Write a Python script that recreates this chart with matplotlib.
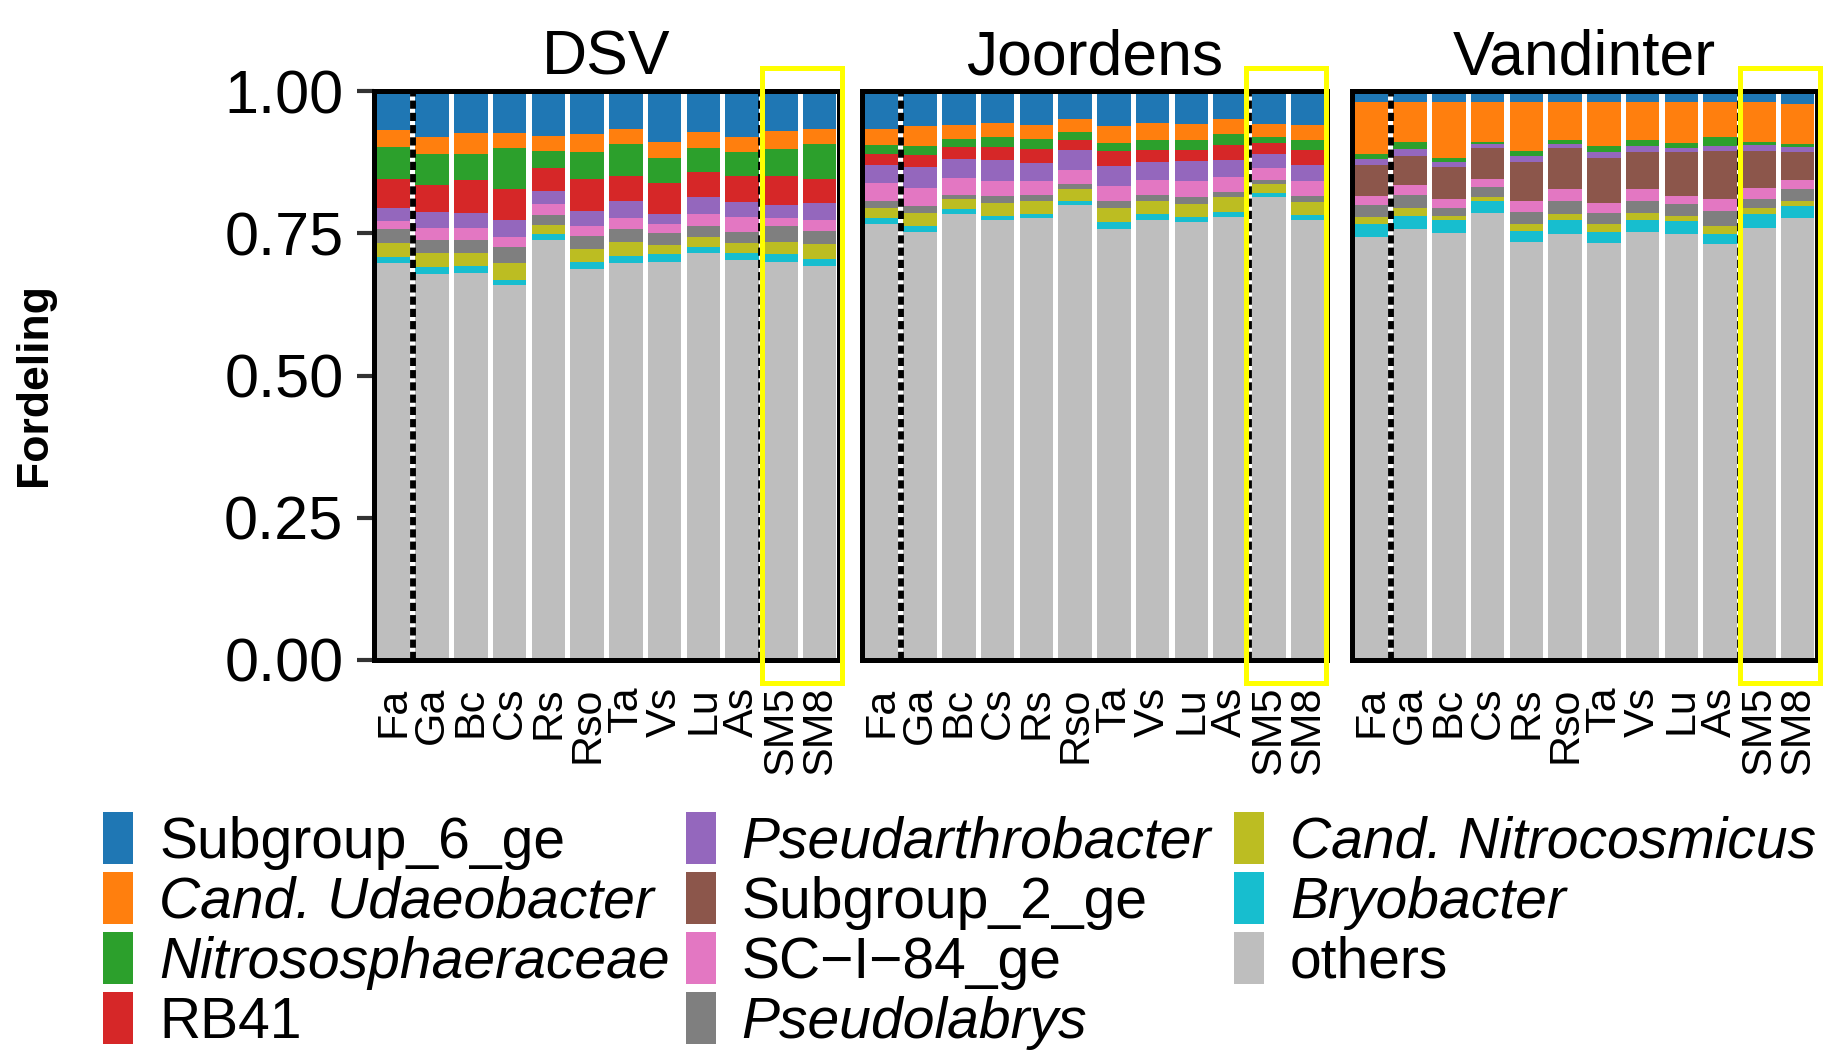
import matplotlib
matplotlib.use("Agg")
import matplotlib.pyplot as plt
from matplotlib.patches import Rectangle
import numpy as np

plt.rcParams["font.family"] = ["Liberation Sans", "DejaVu Sans"]

samples = ["Fa", "Ga", "Bc", "Cs", "Rs", "Rso", "Ta", "Vs", "Lu", "As", "SM5", "SM8"]
sites = ["DSV", "Joordens", "Vandinter"]

# taxa, top of the stack first (legend order)
taxa = ["Subgroup_6_ge", "Cand. Udaeobacter", "Nitrososphaeraceae", "RB41",
        "Pseudarthrobacter", "Subgroup_2_ge", "SC\u2212I\u221284_ge", "Pseudolabrys",
        "Cand. Nitrocosmicus", "Bryobacter", "others"]
italic = [False, True, True, False, True, False, False, True, True, True, False]
colors = ["#1F77B4", "#FF7F0E", "#2CA02C", "#D62728", "#9467BD", "#8C564B",
          "#E377C2", "#7F7F7F", "#BCBD22", "#17BECF", "#BEBEBE"]

zeros = [0.0] * 12

dsv = {
    "Subgroup_6_ge": [0.068, 0.080, 0.073, 0.073, 0.079, 0.076, 0.066, 0.090, 0.072, 0.081, 0.070, 0.067],
    "Cand. Udaeobacter": [0.030, 0.031, 0.037, 0.028, 0.026, 0.031, 0.028, 0.028, 0.028, 0.027, 0.032, 0.026],
    "Nitrososphaeraceae": [0.057, 0.054, 0.046, 0.072, 0.031, 0.048, 0.055, 0.044, 0.043, 0.041, 0.047, 0.062],
    "RB41": [0.050, 0.048, 0.058, 0.053, 0.040, 0.056, 0.044, 0.054, 0.044, 0.046, 0.051, 0.042],
    "Pseudarthrobacter": [0.024, 0.027, 0.027, 0.030, 0.023, 0.026, 0.030, 0.017, 0.029, 0.026, 0.023, 0.030],
    "Subgroup_2_ge": zeros,
    "SC\u2212I\u221284_ge": [0.014, 0.021, 0.021, 0.019, 0.019, 0.018, 0.020, 0.017, 0.021, 0.026, 0.015, 0.019],
    "Pseudolabrys": [0.025, 0.023, 0.022, 0.027, 0.018, 0.023, 0.023, 0.020, 0.019, 0.021, 0.027, 0.023],
    "Cand. Nitrocosmicus": [0.023, 0.025, 0.024, 0.030, 0.015, 0.023, 0.024, 0.017, 0.019, 0.017, 0.022, 0.027],
    "Bryobacter": [0.011, 0.013, 0.012, 0.009, 0.011, 0.011, 0.012, 0.013, 0.010, 0.012, 0.013, 0.011],
    "others": [0.698, 0.678, 0.680, 0.659, 0.738, 0.688, 0.698, 0.700, 0.715, 0.703, 0.700, 0.693],
}

joordens = {
    "Subgroup_6_ge": [0.067, 0.061, 0.059, 0.056, 0.059, 0.050, 0.062, 0.057, 0.058, 0.050, 0.058, 0.060],
    "Cand. Udaeobacter": [0.028, 0.035, 0.025, 0.025, 0.025, 0.022, 0.029, 0.029, 0.028, 0.026, 0.022, 0.026],
    "Nitrososphaeraceae": [0.015, 0.016, 0.014, 0.017, 0.018, 0.014, 0.014, 0.017, 0.017, 0.019, 0.012, 0.018],
    "RB41": [0.020, 0.021, 0.022, 0.023, 0.025, 0.018, 0.027, 0.021, 0.020, 0.026, 0.018, 0.026],
    "Pseudarthrobacter": [0.031, 0.038, 0.033, 0.037, 0.032, 0.035, 0.035, 0.033, 0.036, 0.031, 0.026, 0.029],
    "Subgroup_2_ge": zeros,
    "SC\u2212I\u221284_ge": [0.033, 0.031, 0.030, 0.026, 0.023, 0.025, 0.026, 0.026, 0.028, 0.025, 0.020, 0.026],
    "Pseudolabrys": [0.012, 0.013, 0.007, 0.012, 0.011, 0.008, 0.013, 0.010, 0.011, 0.009, 0.007, 0.010],
    "Cand. Nitrocosmicus": [0.018, 0.022, 0.018, 0.023, 0.023, 0.021, 0.025, 0.023, 0.023, 0.026, 0.016, 0.023],
    "Bryobacter": [0.009, 0.010, 0.009, 0.007, 0.008, 0.007, 0.012, 0.010, 0.010, 0.009, 0.007, 0.009],
    "others": [0.767, 0.753, 0.783, 0.774, 0.776, 0.800, 0.757, 0.774, 0.769, 0.779, 0.814, 0.773],
}

vandinter = {
    "Subgroup_6_ge": [0.019, 0.019, 0.020, 0.019, 0.019, 0.019, 0.019, 0.019, 0.019, 0.019, 0.019, 0.022],
    "Cand. Udaeobacter": [0.092, 0.071, 0.098, 0.070, 0.086, 0.067, 0.077, 0.067, 0.073, 0.061, 0.070, 0.071],
    "Nitrososphaeraceae": [0.009, 0.012, 0.006, 0.005, 0.009, 0.007, 0.012, 0.011, 0.009, 0.016, 0.006, 0.006],
    "RB41": zeros,
    "Pseudarthrobacter": [0.010, 0.012, 0.009, 0.007, 0.010, 0.008, 0.010, 0.010, 0.006, 0.009, 0.010, 0.009],
    "Subgroup_2_ge": [0.055, 0.051, 0.057, 0.054, 0.069, 0.072, 0.078, 0.066, 0.077, 0.085, 0.065, 0.048],
    "SC\u2212I\u221284_ge": [0.015, 0.018, 0.016, 0.014, 0.020, 0.021, 0.018, 0.021, 0.015, 0.021, 0.020, 0.016],
    "Pseudolabrys": [0.021, 0.023, 0.014, 0.017, 0.021, 0.023, 0.020, 0.021, 0.020, 0.027, 0.015, 0.021],
    "Cand. Nitrocosmicus": [0.013, 0.014, 0.007, 0.008, 0.012, 0.009, 0.013, 0.012, 0.010, 0.013, 0.012, 0.009],
    "Bryobacter": [0.022, 0.023, 0.023, 0.020, 0.020, 0.025, 0.020, 0.020, 0.022, 0.018, 0.023, 0.021],
    "others": [0.744, 0.757, 0.750, 0.786, 0.734, 0.749, 0.733, 0.753, 0.749, 0.731, 0.760, 0.777],
}

site_data = [dsv, joordens, vandinter]

W, H = 1828, 1051
fig = plt.figure(figsize=(W / 100, H / 100), dpi=100)

# panel geometry in pixels
panel_left = [374, 862, 1352]
panel_w = 465
ax_top, ax_bot = 91, 660
yellow_box = [(9.51, 11.58), (9.40, 11.48), (9.51, 11.58)]

x = np.arange(len(samples))
for p, site in enumerate(sites):
    ax = fig.add_axes([panel_left[p] / W, 1 - ax_bot / H, panel_w / W, (ax_bot - ax_top) / H])
    data = site_data[p]
    bottom = np.zeros(len(samples))
    for name, col in zip(taxa[::-1], colors[::-1]):
        vals = np.array(data[name])
        ax.bar(x, vals, width=0.865, bottom=bottom, color=col, linewidth=0, zorder=1)
        bottom += vals

    ax.set_xlim(-0.5, len(samples) - 0.5)
    ax.set_ylim(0, 1)
    for sp in ax.spines.values():
        sp.set_linewidth(3.6)
        sp.set_color("black")

    # dashed separators
    ax.axvline(0.5, color="black", lw=4.2, linestyle=(0, (1.4, 0.7)), zorder=3)
    ax.axvline(9.5, color="black", lw=4.2, linestyle=(0, (1.4, 0.7)), zorder=3)

    x0, x1 = yellow_box[p]
    ax.add_patch(Rectangle((x0, -0.04), x1 - x0, 1.08, fill=False, edgecolor="#FFFF00",
                           linewidth=3.6, clip_on=False, zorder=10))

    ax.set_xticks(x)
    ax.set_xticklabels(samples, rotation=90, fontsize=31)
    ax.tick_params(axis="x", length=0, pad=19)
    if p == 0:
        ax.set_yticks([0, 0.25, 0.5, 0.75, 1.0])
        ax.set_yticklabels(["0.00", "0.25", "0.50", "0.75", "1.00"], fontsize=44)
        ax.tick_params(axis="y", length=12, width=3, color="#333333", pad=10)
    else:
        ax.set_yticks([])
    ax.set_title(site, fontsize=45, pad=12)

fig.text(35 / W, 1 - 385 / H, "Fordeling", rotation=90, ha="center", va="center",
         fontsize=32, fontweight="bold")

# legend, 3 columns x 4 rows
sw_x = [103, 686, 1234]
tx_x = [159, 741, 1290]
for i, (name, col, it) in enumerate(zip(taxa, colors, italic)):
    c, r = i // 4, i % 4
    cy = 838 + 60 * r
    fig.add_artist(Rectangle((sw_x[c] / W, 1 - (cy + 26) / H), 30 / W, 52 / H,
                             transform=fig.transFigure, facecolor=col, edgecolor="none"))
    fig.text(tx_x[c] / W, 1 - (cy + 20) / H, name, fontsize=41, va="baseline", ha="left",
             fontstyle="italic" if it else "normal")

fig.savefig("out.png", dpi=100)
